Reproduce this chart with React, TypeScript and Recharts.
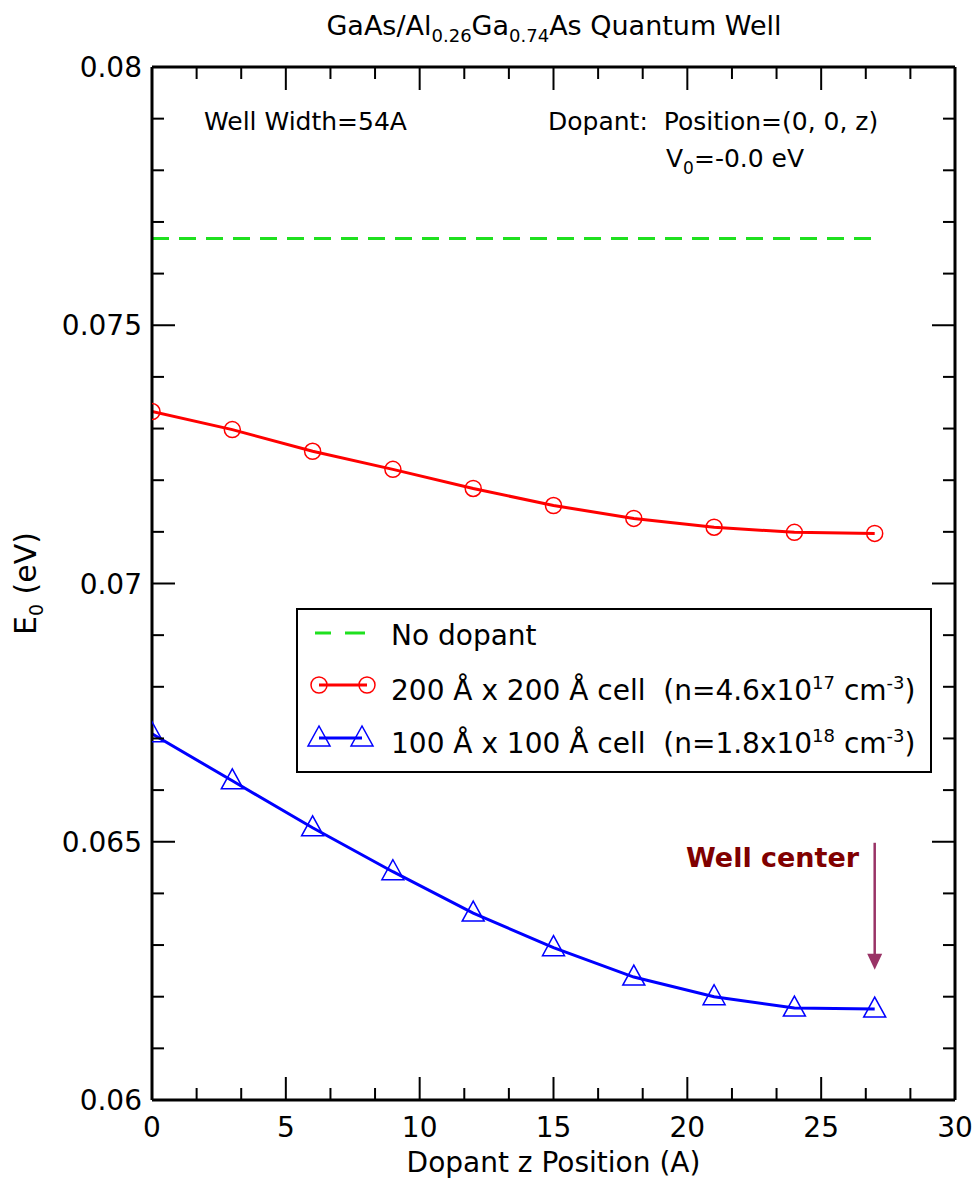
import { LineChart, Line, XAxis, YAxis, Legend, ReferenceLine } from "recharts";

// dopant z position (A)
const positions = [0, 3, 6, 9, 12, 15, 18, 21, 24, 27];
// E0 (eV) for each series
const noDopant = [0.07668, 0.07668, 0.07668, 0.07668, 0.07668, 0.07668, 0.07668, 0.07668, 0.07668, 0.07668];
const cell200 = [0.07333, 0.07298, 0.07256, 0.07221, 0.07184, 0.07151, 0.07126, 0.07109, 0.07099, 0.07097];
const cell100 = [0.06709, 0.06618, 0.06527, 0.06442, 0.06362, 0.06295, 0.06238, 0.062, 0.06178, 0.06176];

const xMajorTicks = [0, 5, 10, 15, 20, 25, 30];
const xMinorTicks = [1.667, 3.333, 6.667, 8.333, 11.667, 13.333, 16.667, 18.333, 21.667, 23.333, 26.667, 28.333];
const yMajorTicks = [0.06, 0.065, 0.07, 0.075, 0.08];
const yMinorTicks = [
  0.061, 0.062, 0.063, 0.064, 0.066, 0.067, 0.068, 0.069,
  0.071, 0.072, 0.073, 0.074, 0.076, 0.077, 0.078, 0.079,
];

// well center marker (arrow start / end, in data units)
const arrowFrom = { x: 27, y: 0.06498 };
const arrowTo = { x: 27, y: 0.06252 };

const data = positions.map((x, i) => ({
  x,
  noDopant: noDopant[i],
  cell200: cell200[i],
  cell100: cell100[i],
}));

const font = "'DejaVu Sans', sans-serif";
const RED = "#ff0000";
const BLUE = "#0000ff";
const GREEN = "#1fe01f";

const MAJOR = 23;
const MINOR = 12;

const BottomTick = ({ x, y, payload }: any) => {
  const major = xMajorTicks.includes(payload.value);
  return (
    <g>
      <line x1={x} x2={x} y1={y} y2={y - (major ? MAJOR : MINOR)} stroke="#000" strokeWidth={2} />
      {major && (
        <text x={x} y={y + 37} textAnchor="middle" fontSize={28} fontFamily={font} fill="#000">
          {payload.value}
        </text>
      )}
    </g>
  );
};

const TopTick = ({ x, y, payload }: any) => {
  const major = xMajorTicks.includes(payload.value);
  return <line x1={x} x2={x} y1={y} y2={y + (major ? MAJOR : MINOR)} stroke="#000" strokeWidth={2} />;
};

const LeftTick = ({ x, y, payload }: any) => {
  const major = yMajorTicks.includes(payload.value);
  return (
    <g>
      <line x1={x} x2={x + (major ? MAJOR : MINOR)} y1={y} y2={y} stroke="#000" strokeWidth={2} />
      {major && (
        <text x={x - 10} y={y + 10} textAnchor="end" fontSize={28} fontFamily={font} fill="#000">
          {payload.value}
        </text>
      )}
    </g>
  );
};

const RightTick = ({ x, y, payload }: any) => {
  const major = yMajorTicks.includes(payload.value);
  return <line x1={x} x2={x - (major ? MAJOR : MINOR)} y1={y} y2={y} stroke="#000" strokeWidth={2} />;
};

const Circle = ({ cx, cy, index }: any) => (
  <circle key={`c${index}`} cx={cx} cy={cy} r={8} fill="none" stroke={RED} strokeWidth={1.5} />
);

const tri = (cx: number, cy: number) =>
  `${cx},${cy - 12} ${cx - 11},${cy + 8} ${cx + 11},${cy + 8}`;

const Triangle = ({ cx, cy, index }: any) => (
  <polygon key={`t${index}`} points={tri(cx, cy)} fill="none" stroke={BLUE} strokeWidth={1.5} />
);

const Arrow = ({ x1, y1, x2, y2 }: any) => (
  <g>
    <line x1={x1} y1={y1} x2={x2} y2={y2 - 14} stroke="#993366" strokeWidth={2.5} />
    <polygon points={`${x2 - 7.5},${y2 - 16} ${x2 + 7.5},${y2 - 16} ${x2},${y2}`} fill="#993366" />
  </g>
);

const YTitle = ({ viewBox }: any) => (
  <text
    transform={`translate(${viewBox.x + 36}, ${viewBox.y + viewBox.height / 2}) rotate(-90)`}
    textAnchor="middle"
    fontSize={30}
    fontFamily={font}
    fill="#000"
  >
    E<tspan dy={7} fontSize={19}>0</tspan>
    <tspan dy={-7}> (eV)</tspan>
  </text>
);

const LegendBox = () => (
  <svg width={636} height={165} style={{ display: "block" }}>
    <rect x={1} y={1} width={634} height={163} fill="#fff" stroke="#000" strokeWidth={2} />
    <line x1={19} x2={35} y1={25} y2={25} stroke={GREEN} strokeWidth={3} />
    <line x1={49} x2={69} y1={25} y2={25} stroke={GREEN} strokeWidth={3} />
    <text x={95} y={37} fontSize={28} fontFamily={font}>No dopant</text>

    <line x1={23} x2={71} y1={77} y2={77} stroke={RED} strokeWidth={3} />
    <circle cx={23} cy={77} r={8} fill="none" stroke={RED} strokeWidth={1.5} />
    <circle cx={71} cy={77} r={8} fill="none" stroke={RED} strokeWidth={1.5} />
    <text x={95} y={92} fontSize={28} fontFamily={font} style={{ whiteSpace: "pre" }}>
      200 Å x 200 Å cell  (n=4.6x10<tspan dy={-11} fontSize={18}>17</tspan>
      <tspan dy={11}> cm</tspan>
      <tspan dy={-11} fontSize={18}>-3</tspan>
      <tspan dy={11}>)</tspan>
    </text>

    <line x1={23} x2={66} y1={130} y2={130} stroke={BLUE} strokeWidth={3} />
    <polygon points={tri(23, 130)} fill="none" stroke={BLUE} strokeWidth={1.5} />
    <polygon points={tri(66, 130)} fill="none" stroke={BLUE} strokeWidth={1.5} />
    <text x={95} y={145} fontSize={28} fontFamily={font} style={{ whiteSpace: "pre" }}>
      100 Å x 100 Å cell  (n=1.8x10<tspan dy={-11} fontSize={18}>18</tspan>
      <tspan dy={11}> cm</tspan>
      <tspan dy={-11} fontSize={18}>-3</tspan>
      <tspan dy={11}>)</tspan>
    </text>
  </svg>
);

export default function App() {
  return (
    <div style={{ position: "absolute", left: 0, top: 0, width: 977, height: 1178, background: "#fff", fontFamily: font }}>
      <LineChart width={977} height={1178} data={data} margin={{ top: 66, right: 21, bottom: 0, left: 0 }}>
        <XAxis
          dataKey="x"
          type="number"
          domain={[0, 30]}
          allowDataOverflow
          ticks={[...xMajorTicks, ...xMinorTicks]}
          interval={0}
          tickSize={0}
          tickMargin={0}
          tick={BottomTick}
          height={78}
          axisLine={{ stroke: "#000", strokeWidth: 3 }}
          label={{
            value: "Dopant z Position (A)",
            position: "insideBottom",
            offset: 6,
            fontSize: 28,
            fontFamily: font,
            fill: "#000",
          }}
        />
        <XAxis
          xAxisId="top"
          dataKey="x"
          orientation="top"
          type="number"
          domain={[0, 30]}
          allowDataOverflow
          ticks={[...xMajorTicks, ...xMinorTicks]}
          interval={0}
          tickSize={0}
          tickMargin={0}
          tick={TopTick}
          height={1}
          axisLine={{ stroke: "#000", strokeWidth: 3 }}
        />
        <YAxis
          type="number"
          domain={[0.06, 0.08]}
          allowDataOverflow
          ticks={[...yMajorTicks, ...yMinorTicks]}
          interval={0}
          tickSize={0}
          tickMargin={0}
          tick={LeftTick}
          width={152}
          axisLine={{ stroke: "#000", strokeWidth: 3 }}
          label={{ content: YTitle }}
        />
        <YAxis
          yAxisId="right"
          orientation="right"
          type="number"
          domain={[0.06, 0.08]}
          allowDataOverflow
          ticks={[...yMajorTicks, ...yMinorTicks]}
          interval={0}
          tickSize={0}
          tickMargin={0}
          tick={RightTick}
          width={1}
          axisLine={{ stroke: "#000", strokeWidth: 3 }}
        />
        <Line
          dataKey="noDopant"
          xAxisId="top"
          yAxisId="right"
          stroke={GREEN}
          strokeWidth={3}
          strokeDasharray="17 10"
          dot={false}
          activeDot={false}
          isAnimationActive={false}
        />
        <Line
          dataKey="cell200"
          stroke={RED}
          strokeWidth={3}
          dot={Circle}
          activeDot={false}
          isAnimationActive={false}
        />
        <Line
          dataKey="cell100"
          stroke={BLUE}
          strokeWidth={3}
          dot={Triangle}
          activeDot={false}
          isAnimationActive={false}
        />
        <ReferenceLine segment={[arrowFrom, arrowTo]} shape={Arrow} />
        <Legend
          layout="horizontal"
          verticalAlign="middle"
          align="center"
          content={LegendBox}
          wrapperStyle={{ position: "absolute", left: 296, top: 608, width: 636, height: 165 }}
        />
      </LineChart>
      <svg width={977} height={1178} style={{ position: "absolute", left: 0, top: 0, pointerEvents: "none" }}>
        <text x={554} y={35} textAnchor="middle" fontSize={27} fontFamily={font}>
          GaAs/Al<tspan dy={7} fontSize={18}>0.26</tspan>
          <tspan dy={-7}>Ga</tspan>
          <tspan dy={7} fontSize={18}>0.74</tspan>
          <tspan dy={-7}>As Quantum Well</tspan>
        </text>
        <text x={204} y={130} fontSize={25} fontFamily={font}>Well Width=54A</text>
        <text x={548} y={130} fontSize={25} fontFamily={font} style={{ whiteSpace: "pre" }}>
          Dopant:  Position=(0, 0, z)
        </text>
        <text x={666} y={167} fontSize={25} fontFamily={font}>
          V<tspan dy={7} fontSize={17}>0</tspan>
          <tspan dy={-7}>=-0.0 eV</tspan>
        </text>
        <text x={686} y={867} fontSize={27} fontWeight="bold" fontFamily={font} fill="#800000">
          Well center
        </text>
      </svg>
    </div>
  );
}
